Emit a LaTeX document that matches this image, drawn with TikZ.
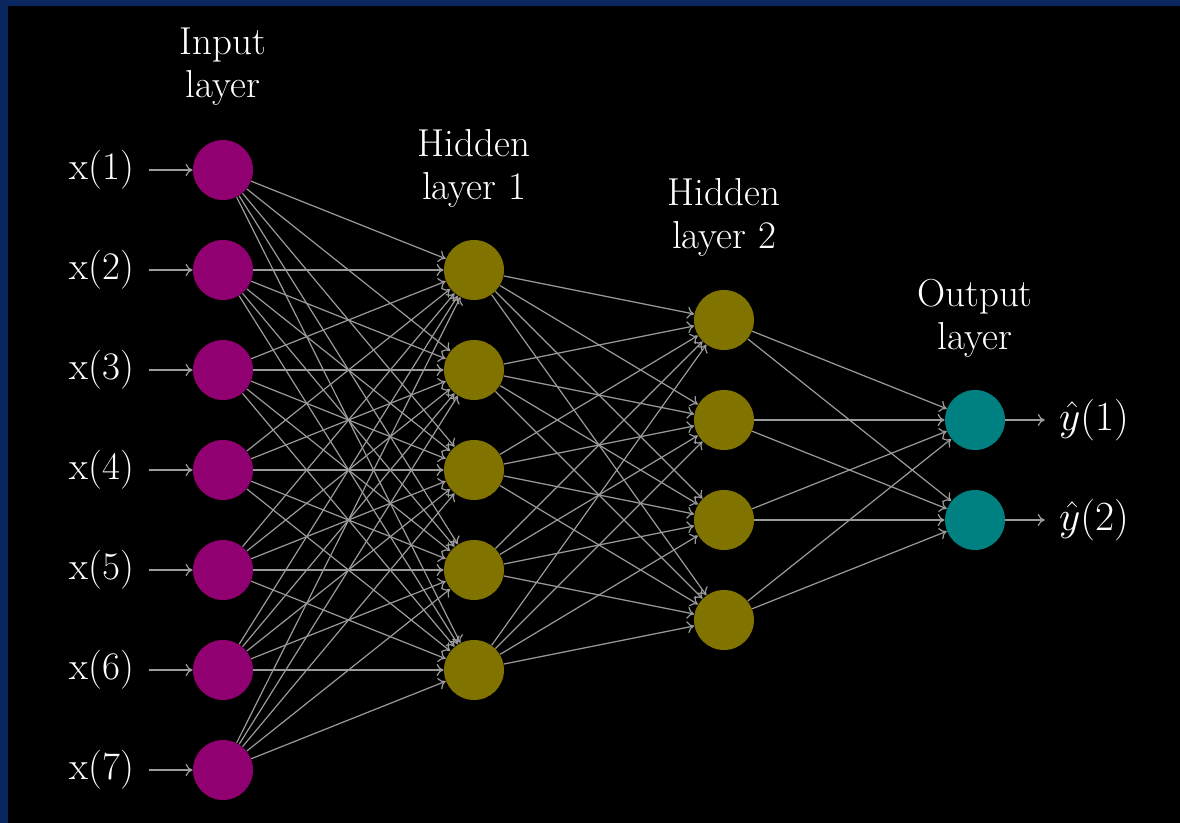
\documentclass[tikz,border=0pt]{standalone}
\usetikzlibrary{arrows.meta}
\definecolor{framebg}{RGB}{10,38,95}
\definecolor{inmag}{RGB}{145,0,112}
\definecolor{hidol}{RGB}{128,115,0}
\definecolor{outteal}{RGB}{0,128,128}
\definecolor{edgegray}{RGB}{155,155,155}
\begin{document}
\begin{tikzpicture}[x=0.5pt,y=-0.5pt,
  neuron/.style={circle, minimum size=30pt, inner sep=0pt},
  inneuron/.style={neuron, fill=inmag},
  hidneuron/.style={neuron, fill=hidol},
  outneuron/.style={neuron, fill=outteal},
  conn/.style={draw=edgegray, line width=0.6pt, -{To[length=3.5pt,width=6pt]}},
  lbl/.style={text=white, font=\fontsize{19.5}{21.5}\selectfont, align=center, inner sep=7pt}]
\fill[framebg] (0,0) rectangle (1180,823);
\fill[black] (8,6) rectangle (1180,823);
\useasboundingbox (0,0) rectangle (1180,823);

% neurons
\foreach \k in {1,...,7} {
  \node[inneuron] (i\k) at (223,{70+100*\k}) {};
  \node[lbl] (x\k) at (102,{70+100*\k}) {x(\k)};
  \draw[conn] (x\k.east) -- (i\k.west);
}
\foreach \k in {1,...,5} \node[hidneuron] (h\k) at (474,{170+100*\k}) {};
\foreach \k in {1,...,4} \node[hidneuron] (g\k) at (724,{220+100*\k}) {};
\foreach \k in {1,2} {
  \node[outneuron] (o\k) at (975,{320+100*\k}) {};
  \node[lbl] (y\k) at (1094,{320+100*\k}) {$\hat{y}(\k)$};
  \draw[conn] (o\k.east) -- (y\k.west);
}

% connections
\foreach \a in {1,...,7} \foreach \b in {1,...,5} \draw[conn] (i\a) -- (h\b);
\foreach \a in {1,...,5} \foreach \b in {1,...,4} \draw[conn] (h\a) -- (g\b);
\foreach \a in {1,...,4} \foreach \b in {1,2} \draw[conn] (g\a) -- (o\b);

% layer titles
\node[lbl] (tin) at (223,67) {Input\\layer};
\node[lbl] (th1) at (474,168) {Hidden\\layer 1};
\node[lbl] (th2) at (724,217) {Hidden\\layer 2};
\node[lbl] (tout) at (975,318) {Output\\layer};
\end{tikzpicture}
\end{document}
